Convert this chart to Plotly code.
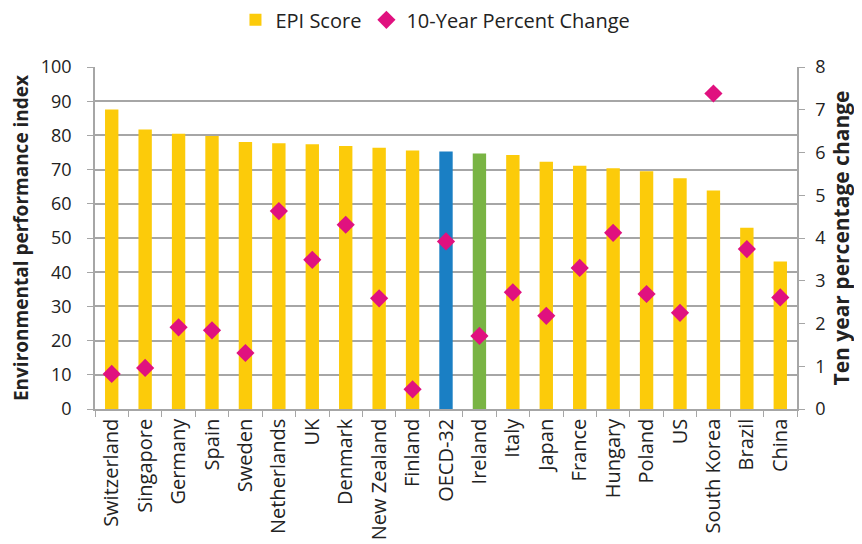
import plotly.graph_objects as go

countries = ["Switzerland", "Singapore", "Germany", "Spain", "Sweden", "Netherlands", "UK",
             "Denmark", "New Zealand", "Finland", "OECD-32", "Ireland", "Italy", "Japan",
             "France", "Hungary", "Poland", "US", "South Korea", "Brazil", "China"]
epi_score = [87.6, 81.7, 80.5, 79.8, 78.1, 77.7, 77.4, 76.9, 76.4, 75.6, 75.3, 74.7,
             74.3, 72.3, 71.1, 70.4, 69.5, 67.5, 63.9, 53.0, 43.1]
ten_year_change = [0.82, 0.96, 1.91, 1.84, 1.31, 4.63, 3.49, 4.31, 2.59, 0.46, 3.92, 1.71,
                   2.73, 2.18, 3.30, 4.12, 2.69, 2.25, 7.38, 3.74, 2.61]

YELLOW = "#FCCB0A"
BLUE = "#1A7FC4"
GREEN = "#79B444"
MAGENTA = "#E0117F"
bar_colors = [BLUE if c == "OECD-32" else GREEN if c == "Ireland" else YELLOW for c in countries]

FONT = "Open Sans, sans-serif"
GRID = "#A6A6A6"

fig = go.Figure()
fig.add_trace(go.Bar(x=countries, y=epi_score, name="EPI Score",
                     marker=dict(color=bar_colors, line=dict(width=0))))
fig.add_trace(go.Scatter(x=countries, y=ten_year_change, name="10-Year Percent Change",
                         mode="markers", yaxis="y2",
                         marker=dict(symbol="diamond", size=14, color=MAGENTA)))

fig.update_layout(
    width=854, height=536,
    margin=dict(l=87, r=65, t=59, b=135, autoexpand=False),
    paper_bgcolor="white", plot_bgcolor="white",
    font=dict(family=FONT, size=18, color="#222222"),
    bargap=0.6,
    showlegend=True,
    legend=dict(orientation="h", x=0.485, xanchor="center", yref="container",
                y=0.978, yanchor="middle", font=dict(size=20), tracegroupgap=0),
    xaxis=dict(range=[-0.5, len(countries) - 0.5], tickangle=-90, showline=True,
               linecolor=GRID, linewidth=1.5, automargin=False,
               ticks="outside", tickson="boundaries", tickcolor=GRID, ticklen=6,
               tickfont=dict(size=20), showgrid=False),
    yaxis=dict(range=[0, 100], dtick=10, showgrid=True, gridcolor=GRID, gridwidth=1.5,
               showline=True, linecolor=GRID, linewidth=1.5, ticks="outside",
               tickcolor=GRID, ticklen=6, tickfont=dict(size=18), automargin=False,
               ticklabelstandoff=12,
               title=dict(text="<b>Environmental performance index</b>", font=dict(size=19),
                          standoff=12), zeroline=False),
    yaxis2=dict(range=[0, 8], dtick=1, overlaying="y", side="right", showgrid=False,
                showline=True, linecolor=GRID, linewidth=1.5, ticks="outside",
                tickcolor=GRID, ticklen=6, tickfont=dict(size=18), automargin=False,
                ticklabelstandoff=7,
                title=dict(text="<b>Ten year percentage change</b>", font=dict(size=21),
                           standoff=10), zeroline=False),
)

fig.write_html("out.html")
